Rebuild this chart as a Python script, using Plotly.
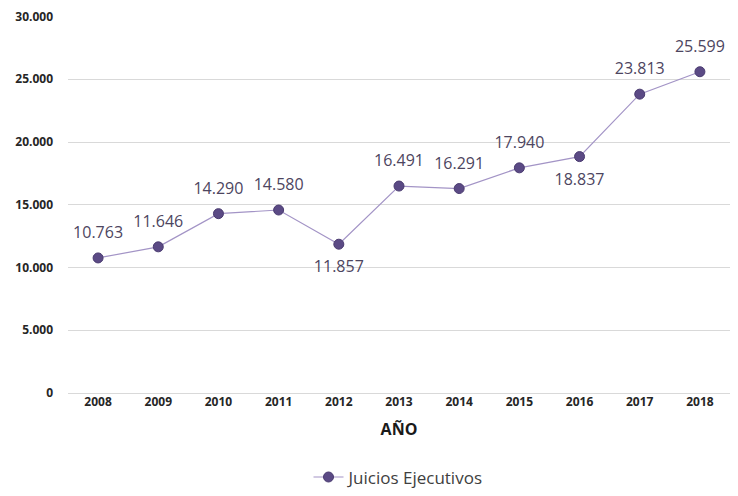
import plotly.graph_objects as go

years = ["2008", "2009", "2010", "2011", "2012", "2013", "2014", "2015", "2016", "2017", "2018"]
juicios = [10763, 11646, 14290, 14580, 11857, 16491, 16291, 17940, 18837, 23813, 25599]
label_pos = ["top center", "top center", "top center", "top center", "bottom center",
             "top center", "top center", "top center", "bottom center", "top center", "top center"]

fig = go.Figure()
fig.add_trace(go.Scatter(
    x=years,
    y=juicios,
    name="Juicios Ejecutivos",
    mode="lines+markers",
    line=dict(color="#a394c6", width=1.2),
    marker=dict(color="#5b4a85", size=10, line=dict(color="#4a3b70", width=1)),
    cliponaxis=False,
))

# etiquetas de datos: marcador invisible más grande para separar el texto del punto
fig.add_trace(go.Scatter(
    x=years,
    y=juicios,
    mode="markers+text",
    marker=dict(color="rgba(0,0,0,0)", size=24),
    texttemplate="%{y:,}",
    textposition=label_pos,
    textfont=dict(family="Open Sans, sans-serif", size=16, color="#4d4560"),
    showlegend=False,
    hoverinfo="skip",
    cliponaxis=False,
))

# la página tiene 8px de margen en el body: la figura se ajusta para caber sin scroll
fig.update_layout(
    width=722,
    height=480,
    margin=dict(l=60, r=0, t=8, b=95, autoexpand=False),
    plot_bgcolor="white",
    paper_bgcolor="white",
    separators=",.",
    font=dict(family="Open Sans, sans-serif", color="#333333"),
    showlegend=True,
    legend=dict(
        orientation="h",
        x=0.5, xanchor="center",
        y=-0.224, yanchor="middle",
        font=dict(size=17, color="#404040"),
    ),
    xaxis=dict(
        type="category",
        range=[-0.5, 10.5],
        automargin=False,
        showgrid=False,
        showline=False,
        ticks="",
        tickfont=dict(size=12, color="#262626", family="Open Sans, sans-serif", weight="bold"),
        title=dict(text="<b>AÑO</b>", font=dict(size=16, color="#1a1a1a", family="Open Sans, sans-serif"), standoff=14),
    ),
    yaxis=dict(
        automargin=False,
        range=[0, 30040],
        tick0=0,
        dtick=5000,
        tickformat=",d",
        ticklabeloverflow="allow",
        showgrid=True,
        gridcolor="#d9d9d9",
        gridwidth=1,
        zeroline=True,
        zerolinecolor="#d9d9d9",
        zerolinewidth=1,
        ticks="",
        ticklabelstandoff=14,
        tickfont=dict(size=12, color="#262626", family="Open Sans, sans-serif", weight="bold"),
    ),
)

fig.write_html("out.html")
